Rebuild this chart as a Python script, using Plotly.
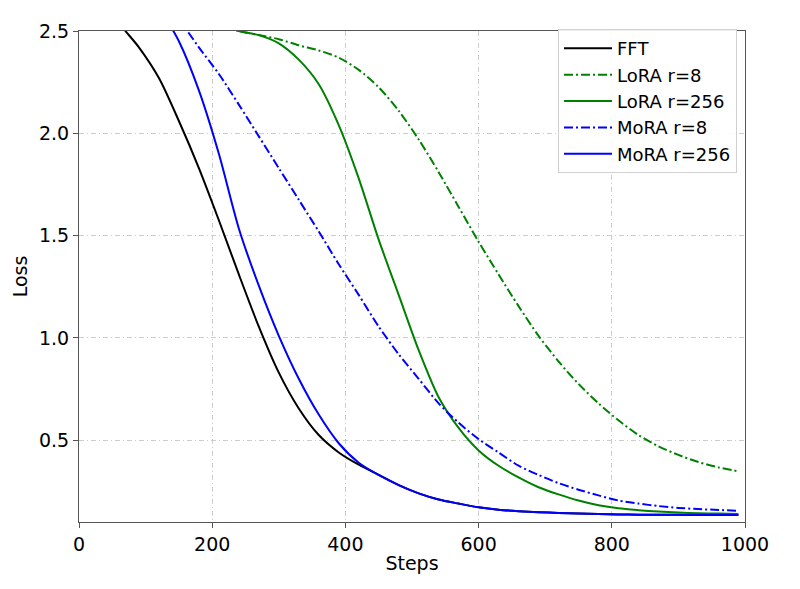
import plotly.graph_objects as go

# Training steps (shared x values for all runs)
steps = [0, 30, 60, 90, 120, 150, 180, 210, 240, 270, 300, 330, 360, 390, 420, 450, 480,
         510, 540, 570, 600, 630, 660, 690, 720, 750, 780, 810, 840, 870, 900, 930, 960, 990]

# Loss curves
loss_fft = [2.85, 2.70, 2.54, 2.42, 2.27, 2.06, 1.83, 1.575, 1.31, 1.055, 0.83, 0.655, 0.525,
            0.44, 0.38, 0.33, 0.28, 0.24, 0.21, 0.19, 0.172, 0.16, 0.153, 0.148, 0.144, 0.141,
            0.139, 0.137, 0.136, 0.135, 0.135, 0.134, 0.134, 0.134]
loss_lora_8 = [2.75, 2.72, 2.69, 2.66, 2.63, 2.60, 2.57, 2.53, 2.50, 2.48, 2.46, 2.43, 2.405,
               2.37, 2.31, 2.225, 2.11, 1.97, 1.81, 1.64, 1.47, 1.31, 1.155, 1.01, 0.885, 0.775,
               0.68, 0.597, 0.525, 0.47, 0.428, 0.393, 0.367, 0.348]
loss_lora_256 = [2.90, 2.85, 2.80, 2.75, 2.70, 2.65, 2.60, 2.54, 2.50, 2.48, 2.44, 2.36, 2.24,
                 2.04, 1.78, 1.48, 1.21, 0.94, 0.71, 0.56, 0.45, 0.375, 0.318, 0.27, 0.235,
                 0.205, 0.182, 0.167, 0.158, 0.151, 0.146, 0.143, 0.141, 0.139]
loss_mora_8 = [3.00, 2.95, 2.88, 2.80, 2.70, 2.56, 2.42, 2.29, 2.14, 1.985, 1.83, 1.675, 1.52,
               1.36, 1.21, 1.055, 0.92, 0.80, 0.68, 0.585, 0.505, 0.44, 0.375, 0.33, 0.29,
               0.258, 0.23, 0.205, 0.19, 0.178, 0.169, 0.163, 0.159, 0.155]
loss_mora_256 = [3.30, 3.13, 2.96, 2.79, 2.62, 2.45, 2.21, 1.90, 1.535, 1.255, 1.01, 0.80, 0.625,
                 0.485, 0.39, 0.33, 0.28, 0.24, 0.21, 0.19, 0.172, 0.16, 0.153, 0.148, 0.144,
                 0.141, 0.139, 0.137, 0.136, 0.135, 0.135, 0.134, 0.134, 0.134]

x_ticks = [0, 200, 400, 600, 800, 1000]
y_ticks = [0.5, 1.0, 1.5, 2.0, 2.5]

dashdot = "9px,3px,2px,3px"
series = [
    ("FFT", loss_fft, "black", "solid"),
    ("LoRA r=8", loss_lora_8, "green", dashdot),
    ("LoRA r=256", loss_lora_256, "green", "solid"),
    ("MoRA r=8", loss_mora_8, "blue", dashdot),
    ("MoRA r=256", loss_mora_256, "blue", "solid"),
]

fig = go.Figure()
for name, vals, color, dash in series:
    fig.add_trace(go.Scatter(
        x=steps, y=vals, name=name, mode="lines",
        line=dict(color=color, width=2, dash=dash, shape="spline", smoothing=0.8),
    ))

axis_style = dict(
    showline=True, linecolor="#555555", linewidth=1, mirror=True,
    ticks="outside", ticklen=5, tickcolor="#555555",
    showgrid=True, gridcolor="#cccccc", gridwidth=1, griddash="5px,3px,1px,3px",
    zeroline=False, tickfont=dict(size=19, color="black"),
)

fig.update_xaxes(range=[0, 1000], tickvals=x_ticks,
                 title=dict(text="Steps", font=dict(size=19, color="black"), standoff=2),
                 **axis_style)
fig.update_yaxes(range=[0.1, 2.5], tickvals=y_ticks, tickformat=".1f",
                 title=dict(text="Loss", font=dict(size=19, color="black"), standoff=6),
                 **axis_style)

# the page body adds an 8px offset, so the figure is a little smaller than the window
fig.update_layout(
    width=792, height=581,
    margin=dict(l=71, r=55, t=17, b=67),
    paper_bgcolor="white", plot_bgcolor="white",
    font=dict(family="DejaVu Sans", size=19, color="black"),
    legend=dict(x=0.988, y=1.004, xanchor="right", yanchor="top", itemwidth=48,
                bgcolor="rgba(255,255,255,0.9)", bordercolor="#d0d0d0", borderwidth=1,
                font=dict(size=18)),
)

fig.write_html("out.html")
